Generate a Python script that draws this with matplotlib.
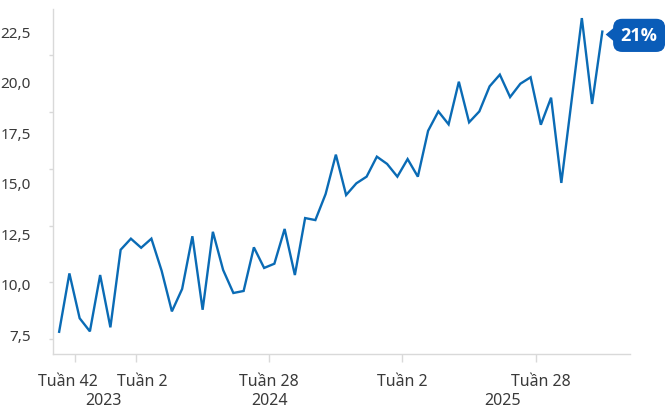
import numpy as np
import matplotlib.pyplot as plt
from matplotlib.ticker import FixedLocator, FuncFormatter
from matplotlib.transforms import blended_transform_factory, offset_copy, ScaledTranslation

# Biweekly values, counted in weeks from "Tuần 42" of 2023
values = [7.61, 10.50, 8.28, 7.63, 10.42, 7.83, 11.67, 12.22, 11.77, 12.22,
          10.63, 8.62, 9.73, 12.34, 8.70, 12.56, 10.67, 9.53, 9.63, 11.79,
          10.77, 10.98, 12.70, 10.42, 13.24, 13.14, 14.43, 16.38, 14.38, 14.96,
          15.29, 16.28, 15.92, 15.29, 16.16, 15.29, 17.56, 18.52, 17.88, 19.99,
          17.98, 18.52, 19.76, 20.34, 19.23, 19.89, 20.21, 17.86, 19.20, 14.98,
          19.05, 23.14, 18.89, 22.47]
weeks = np.arange(-3, -3 + 2 * len(values), 2)

tick_weeks = [0, 12, 38, 64, 90]
tick_labels = ['Tuần 42', 'Tuần 2', 'Tuần 28', 'Tuần 2', 'Tuần 28']
year_labels = ['2023', '2024', '2025']
year_weeks = [5.7, 38.1, 83.6]
y_ticks = [7.5, 10.0, 12.5, 15.0, 17.5, 20.0, 22.5]
y_minor = [7.25, 10.06, 12.87, 15.69, 18.5, 21.32]
callout = '21%'

line_color = '#0a6bb5'
box_color = '#0a5cb8'
text_color = '#3a3a3a'
axis_color = '#d9d9d9'

plt.rcParams['font.family'] = ['Noto Sans', 'DejaVu Sans']

fig = plt.figure(figsize=(6.65, 4.1), dpi=100)
ax = fig.add_axes([53 / 665, 1 - 355 / 410, (630 - 53) / 665, (355 - 10) / 410])

ax.plot(weeks, values, color=line_color, linewidth=1.7, solid_joinstyle='miter')

ax.set_xlim(-4.2, 108.4)
ax.set_ylim(6.51, 23.59)

for side in ['top', 'right']:
    ax.spines[side].set_visible(False)
for side in ['left', 'bottom']:
    ax.spines[side].set_color(axis_color)
    ax.spines[side].set_linewidth(1.0)

ax.set_yticks(y_ticks)
ax.yaxis.set_major_formatter(FuncFormatter(lambda v, p: f'{v:.1f}'.replace('.', ',')))
ax.tick_params(axis='y', which='major', length=0, pad=16, labelsize=11, labelcolor=text_color)
ax.yaxis.set_minor_locator(FixedLocator(y_minor))
ax.tick_params(axis='y', which='minor', length=3, width=1, color=axis_color)

ax.set_xticks(tick_weeks)
ax.set_xticklabels(tick_labels)
ax.tick_params(axis='x', length=6, width=1, color=axis_color, pad=8,
               labelsize=11.5, labelcolor=text_color)
# small nudges so the first labels don't crowd each other
for lab, dx in zip(ax.get_xticklabels(), [-7, 6, 0, 0, 5]):
    lab.set_transform(lab.get_transform() + ScaledTranslation(dx / 100, 0, fig.dpi_scale_trans))

year_trans = blended_transform_factory(ax.transData, fig.transFigure)
for lab, w in zip(year_labels, year_weeks):
    ax.text(w, 9 / 410, lab, transform=year_trans, ha='center', va='center',
            fontsize=11.5, color=text_color, clip_on=False)

# callout at the last point
ax.annotate(callout, xy=(weeks[-1], values[-1]), xytext=(26.5, -2.7),
            textcoords='offset points', ha='center', va='center',
            fontsize=13, fontweight='bold', color='white',
            family=['Open Sans', 'DejaVu Sans'],
            bbox=dict(boxstyle='round,pad=0.42,rounding_size=0.5', fc=box_color, ec='none'),
            annotation_clip=False)
tri_trans = offset_copy(ax.transData, fig=fig, x=8.5, y=-2.3, units='dots')
ax.plot([weeks[-1]], [values[-1]], transform=tri_trans, linestyle='none',
        marker=[(-0.6, 0), (0.6, -1), (0.6, 1)], markersize=14,
        color=box_color, markeredgewidth=0, clip_on=False)

fig.savefig('out.png', dpi=100)
